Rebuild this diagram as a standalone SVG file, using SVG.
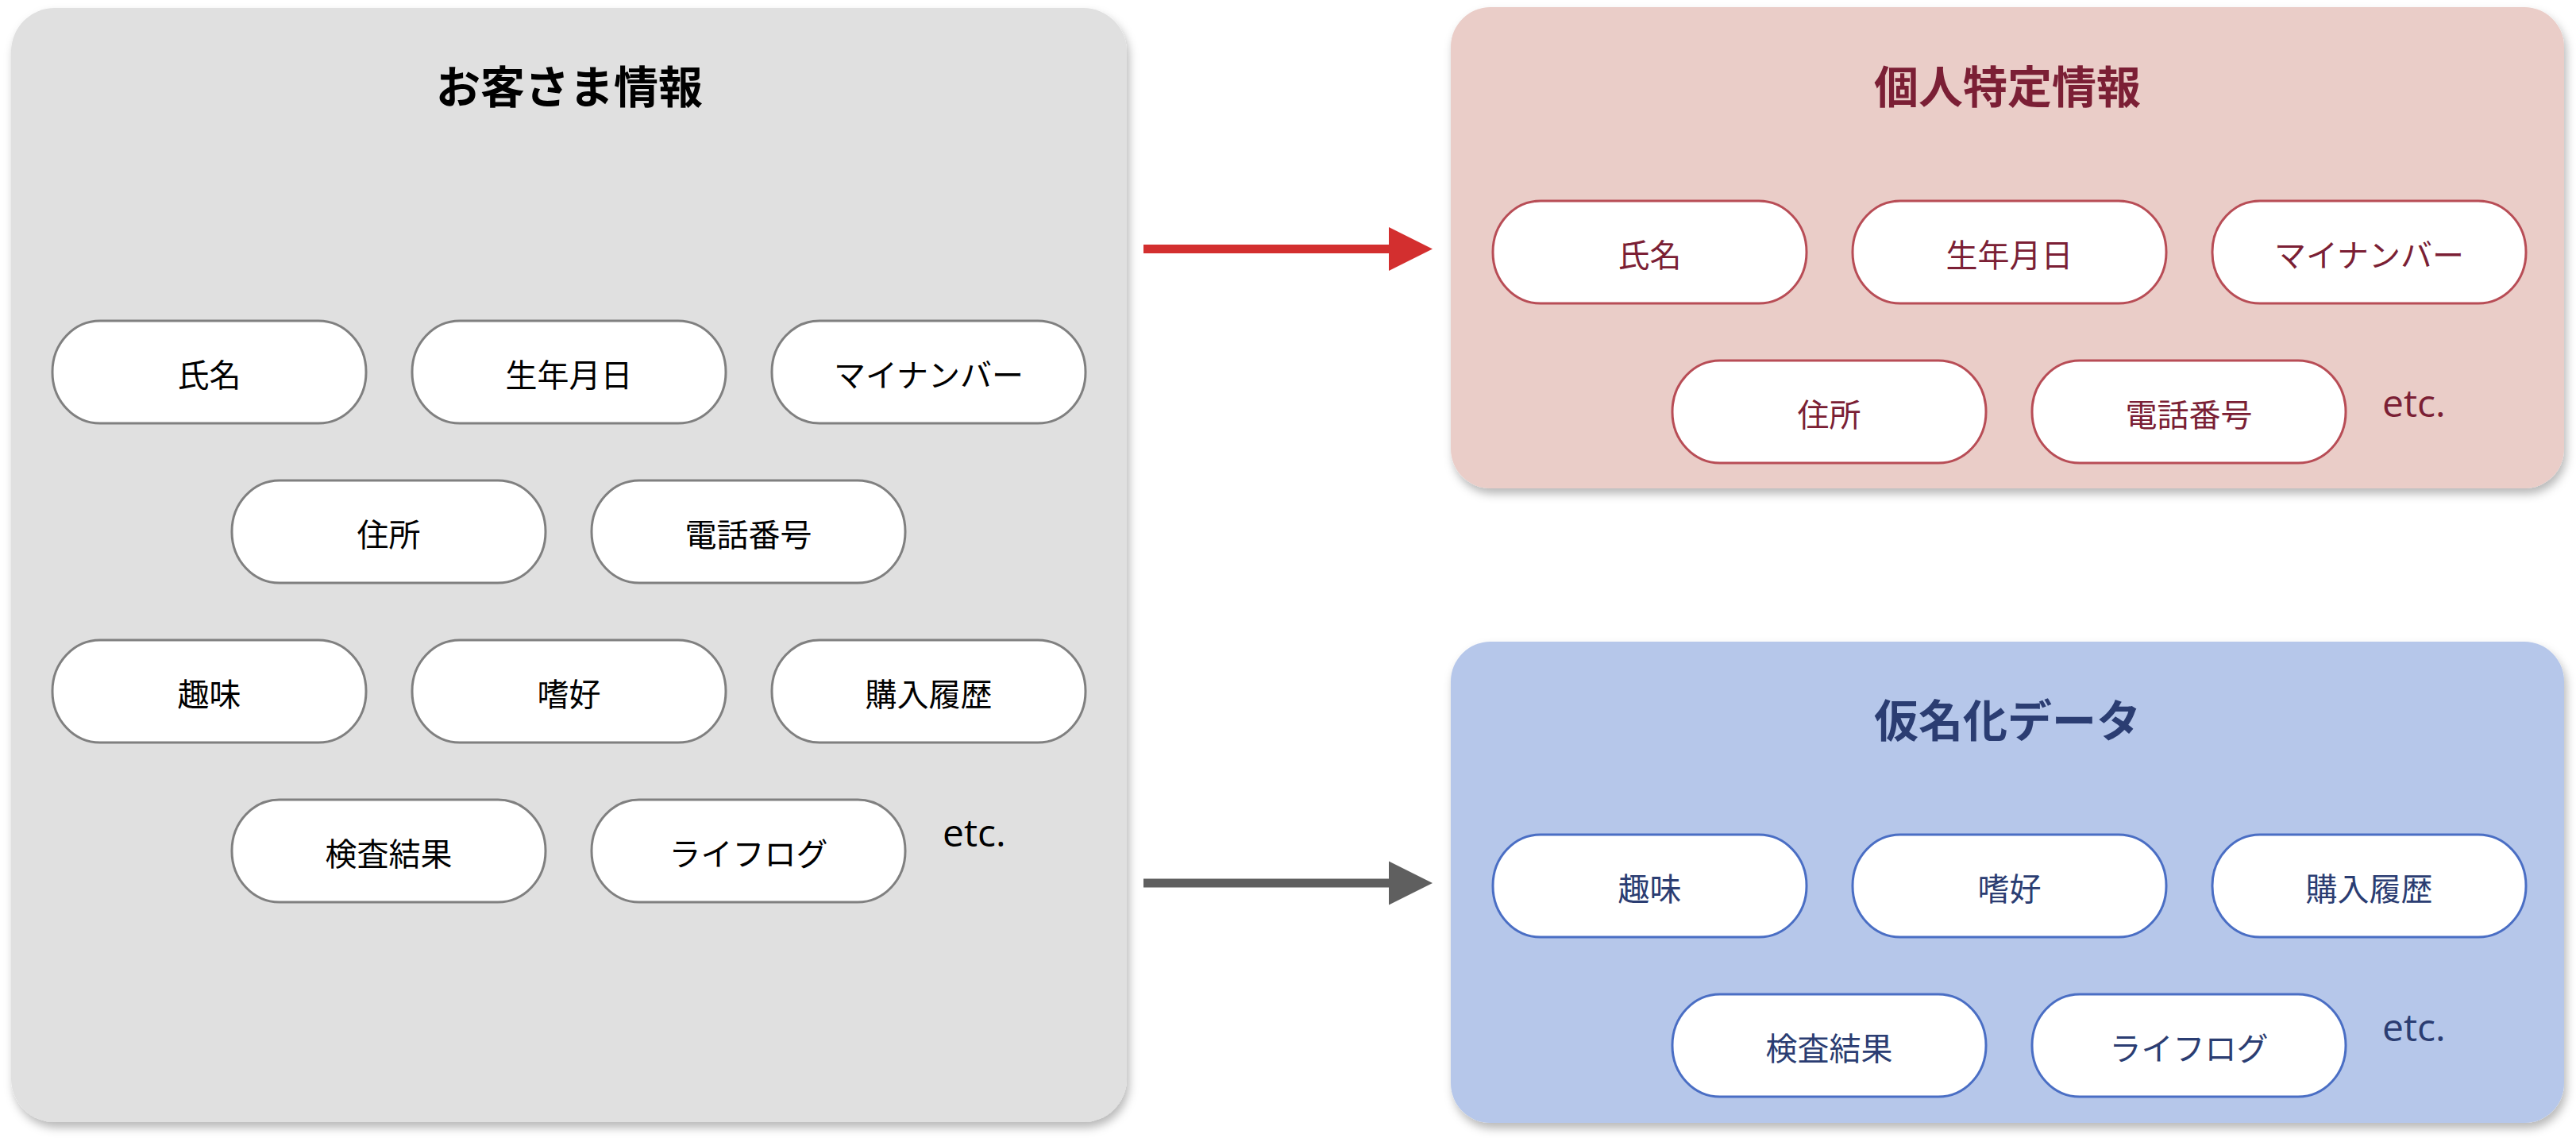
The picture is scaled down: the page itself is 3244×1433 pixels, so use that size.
<svg xmlns="http://www.w3.org/2000/svg" width="3244" height="1433" viewBox="0 0 3244 1433">
<style>
text{font-family:"Noto Sans CJK JP","Noto Sans",sans-serif;text-anchor:middle}
.title{font-size:56px;font-weight:bold}
.lbl{font-size:40px}
.etc{font-family:"Open Sans","Noto Sans",sans-serif;font-size:48px;text-anchor:start}
.pill{fill:#ffffff;stroke-width:3}
.g .pill{stroke:#808080}
.r .pill{stroke:#b84d56}
.b .pill{stroke:#4a6ec4}
.g text{fill:#000000}
.r text{fill:#7b1f35}
.b text{fill:#2b3d72}
</style>
<defs>
<filter id="sh" x="-5%" y="-5%" width="110%" height="112%">
<feDropShadow dx="3" dy="7" stdDeviation="6" flood-color="#000" flood-opacity="0.28"/>
</filter>
</defs>

<g id="customer-info" class="g">
<rect x="14" y="10" width="1405" height="1403" rx="55" fill="#e0e0e0" filter="url(#sh)"/>
<text class="title" x="717" y="130">お客さま情報</text>
<g id="c-name"><rect class="pill" x="66" y="404" width="395" height="129" rx="60" ry="64"/><text class="lbl" x="263.5" y="487">氏名</text></g>
<g id="c-birth"><rect class="pill" x="519" y="404" width="395" height="129" rx="60" ry="64"/><text class="lbl" x="716.5" y="487">生年月日</text></g>
<g id="c-mynumber"><rect class="pill" x="972" y="404" width="395" height="129" rx="60" ry="64"/><text class="lbl" x="1169.5" y="487">マイナンバー</text></g>
<g id="c-address"><rect class="pill" x="292" y="605" width="395" height="129" rx="60" ry="64"/><text class="lbl" x="489.5" y="688">住所</text></g>
<g id="c-phone"><rect class="pill" x="745" y="605" width="395" height="129" rx="60" ry="64"/><text class="lbl" x="942.5" y="688">電話番号</text></g>
<g id="c-hobby"><rect class="pill" x="66" y="806" width="395" height="129" rx="60" ry="64"/><text class="lbl" x="263.5" y="889">趣味</text></g>
<g id="c-pref"><rect class="pill" x="519" y="806" width="395" height="129" rx="60" ry="64"/><text class="lbl" x="716.5" y="889">嗜好</text></g>
<g id="c-purchase"><rect class="pill" x="972" y="806" width="395" height="129" rx="60" ry="64"/><text class="lbl" x="1169.5" y="889">購入履歴</text></g>
<g id="c-exam"><rect class="pill" x="292" y="1007" width="395" height="129" rx="60" ry="64"/><text class="lbl" x="489.5" y="1090">検査結果</text></g>
<g id="c-lifelog"><rect class="pill" x="745" y="1007" width="395" height="129" rx="60" ry="64"/><text class="lbl" x="942.5" y="1090">ライフログ</text></g>
<text class="etc" x="1187" y="1066">etc.</text>
</g>

<g id="personal-id-info" class="r">
<rect x="1827" y="9" width="1402" height="606" rx="50" fill="#eacdc8" filter="url(#sh)"/>
<text class="title" x="2528" y="130">個人特定情報</text>
<g id="p-name"><rect class="pill" x="1880" y="253" width="395" height="129" rx="60" ry="64"/><text class="lbl" x="2077.5" y="336">氏名</text></g>
<g id="p-birth"><rect class="pill" x="2333" y="253" width="395" height="129" rx="60" ry="64"/><text class="lbl" x="2530.5" y="336">生年月日</text></g>
<g id="p-mynumber"><rect class="pill" x="2786" y="253" width="395" height="129" rx="60" ry="64"/><text class="lbl" x="2983.5" y="336">マイナンバー</text></g>
<g id="p-address"><rect class="pill" x="2106" y="454" width="395" height="129" rx="60" ry="64"/><text class="lbl" x="2303.5" y="537">住所</text></g>
<g id="p-phone"><rect class="pill" x="2559" y="454" width="395" height="129" rx="60" ry="64"/><text class="lbl" x="2756.5" y="537">電話番号</text></g>
<text class="etc" x="3000" y="525">etc.</text>
</g>

<g id="pseudonymized-data" class="b">
<rect x="1827" y="808" width="1402" height="606" rx="50" fill="#b6c7ea" filter="url(#sh)"/>
<text class="title" x="2528" y="928">仮名化データ</text>
<g id="d-hobby"><rect class="pill" x="1880" y="1051" width="395" height="129" rx="60" ry="64"/><text class="lbl" x="2077.5" y="1134">趣味</text></g>
<g id="d-pref"><rect class="pill" x="2333" y="1051" width="395" height="129" rx="60" ry="64"/><text class="lbl" x="2530.5" y="1134">嗜好</text></g>
<g id="d-purchase"><rect class="pill" x="2786" y="1051" width="395" height="129" rx="60" ry="64"/><text class="lbl" x="2983.5" y="1134">購入履歴</text></g>
<g id="d-exam"><rect class="pill" x="2106" y="1252" width="395" height="129" rx="60" ry="64"/><text class="lbl" x="2303.5" y="1335">検査結果</text></g>
<g id="d-lifelog"><rect class="pill" x="2559" y="1252" width="395" height="129" rx="60" ry="64"/><text class="lbl" x="2756.5" y="1335">ライフログ</text></g>
<text class="etc" x="3000" y="1311">etc.</text>
</g>

<g id="connectors">
<line x1="1440" y1="313.5" x2="1752" y2="313.5" stroke="#d32f2f" stroke-width="11"/>
<polygon points="1749,286 1804,313.5 1749,341" fill="#d32f2f"/>
<line x1="1440" y1="1112" x2="1752" y2="1112" stroke="#5f5f5f" stroke-width="11"/>
<polygon points="1749,1084.5 1804,1112 1749,1139.5" fill="#5f5f5f"/>
</g>
</svg>
